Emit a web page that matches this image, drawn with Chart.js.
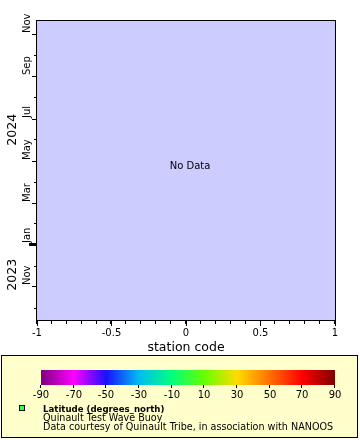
<!DOCTYPE html>
<html>
<head>
<meta charset="utf-8">
<script src="https://cdn.jsdelivr.net/npm/chart.js@4.4.1/dist/chart.umd.min.js"></script>
<style>
  html, body { margin: 0; padding: 0; background: #fff; }
  canvas { display: block; }
</style>
</head>
<body>
<canvas id="chart" width="360" height="440"></canvas>
<script>
// station code axis
const xTicks = [-1, -0.5, 0, 0.5, 1];
const xMinorStep = 0.1;

// time axis (dates)
const yRange = ['2023-09-12', '2024-11-21'];
const monthTicks = ['2023-10-01', '2023-11-01', '2023-12-01', '2024-01-01', '2024-02-01', '2024-03-01', '2024-04-01',
                    '2024-05-01', '2024-06-01', '2024-07-01', '2024-08-01', '2024-09-01', '2024-10-01', '2024-11-01'];
const monthLabels = ['', 'Nov', '', 'Jan', '', 'Mar', '', 'May', '', 'Jul', '', 'Sep', '', 'Nov'];
const yearLabels = ['2023', '2024'];
const yearAnchors = ['2023-11-18', '2024-06-15'];

// colour bar (Latitude, degrees_north)
const colorbarTicks = [-90, -70, -50, -30, -10, 10, 30, 50, 70, 90];
const colorbarColors = ['#800080', '#ff00ff', '#1a10ff', '#00bcf2', '#00ff80', '#66ff00', '#ffdc00', '#ff7000', '#ff0000', '#800000'];

// no observations for this station
const stationPoints = [];

const legendLines = ['Latitude (degrees_north)', 'Quinault Test Wave Buoy', 'Data courtesy of Quinault Tribe, in association with NANOOS'];

const FONT = '"DejaVu Sans", sans-serif';
const day = s => Date.parse(s + 'T00:00:00Z') / 86400000;

const erddapPlugin = {
    id: 'erddap',
    beforeDraw(chart) {
        const { ctx, chartArea: a } = chart;
        ctx.save();
        ctx.fillStyle = '#fff';
        ctx.fillRect(0, 0, chart.width, chart.height);
        ctx.fillStyle = '#ccccff';
        ctx.fillRect(a.left, a.top, a.right - a.left, a.bottom - a.top);
        ctx.restore();
    },
    afterDraw(chart) {
        const { ctx, chartArea: a } = chart;
        const xs = chart.scales.x, ys = chart.scales.y;
        ctx.save();

        // 边框
        ctx.strokeStyle = '#000';
        ctx.lineWidth = 1;
        ctx.strokeRect(Math.round(a.left) - 0.5, Math.round(a.top) + 0.5, Math.round(a.right - a.left) + 1, Math.round(a.bottom - a.top) - 1);

        // x 次刻度
        const yb = Math.round(a.bottom);
        ctx.beginPath();
        for (let v = xTicks[0]; v <= xTicks[xTicks.length - 1] + 1e-9; v += xMinorStep) {
            const px = Math.round(xs.getPixelForValue(v)) - 0.5;
            ctx.moveTo(px, yb);
            ctx.lineTo(px, yb + 3);
        }
        ctx.stroke();

        // y 刻度和月份
        const xl = Math.round(a.left) - 1;
        monthTicks.forEach((t, i) => {
            const py = Math.round(ys.getPixelForValue(day(t)));
            const lab = monthLabels[i];
            if (lab === 'Jan') {
                ctx.fillRect(xl - 7, py - 1, 8, 3);
            } else {
                const len = lab ? 5 : 3;
                ctx.fillRect(xl - len + 1, py, len, 1);
            }
            if (lab) {
                ctx.save();
                ctx.translate(27, py);
                ctx.rotate(-Math.PI / 2);
                ctx.font = '10px ' + FONT;
                ctx.fillStyle = '#000';
                ctx.textAlign = 'left';
                ctx.textBaseline = 'middle';
                ctx.fillText(lab, 1, 0);
                ctx.restore();
            }
        });

        // 年份
        yearLabels.forEach((y, i) => {
            const py = ys.getPixelForValue(day(yearAnchors[i]));
            ctx.save();
            ctx.translate(13, py);
            ctx.rotate(-Math.PI / 2);
            ctx.font = '12.5px ' + FONT;
            ctx.fillStyle = '#000';
            ctx.textAlign = 'center';
            ctx.textBaseline = 'middle';
            ctx.fillText(y, 0, 0);
            ctx.restore();
        });

        // 无数据
        if (!stationPoints.length) {
            ctx.font = '10px ' + FONT;
            ctx.fillStyle = '#000';
            ctx.textAlign = 'center';
            ctx.textBaseline = 'middle';
            ctx.fillText('No Data', (a.left + a.right) / 2 + 4, (a.top + a.bottom) / 2 - 4);
        }

        // 图例框
        ctx.fillStyle = '#ffffcc';
        ctx.fillRect(1, 355, 357, 83);
        ctx.strokeRect(1.5, 355.5, 356, 82);

        // 色标
        const cbL = 41, cbR = 335, cbT = 370, cbB = 385;
        const lo = colorbarTicks[0], hi = colorbarTicks[colorbarTicks.length - 1];
        const cx = v => cbL + (v - lo) / (hi - lo) * (cbR - cbL);
        const grad = ctx.createLinearGradient(cbL, 0, cbR, 0);
        colorbarTicks.forEach((v, i) => grad.addColorStop((v - lo) / (hi - lo), colorbarColors[i]));
        ctx.fillStyle = grad;
        ctx.fillRect(cbL, cbT, cbR - cbL, cbB - cbT);
        ctx.fillStyle = '#000';
        ctx.font = '10px ' + FONT;
        ctx.textAlign = 'center';
        ctx.textBaseline = 'alphabetic';
        colorbarTicks.forEach(v => {
            const px = Math.round(cx(v));
            ctx.fillRect(px - 1, cbB, 1, 3);
            ctx.fillText(String(v), px, 398);
        });

        // 图例说明
        ctx.fillStyle = '#33ff33';
        ctx.fillRect(19, 405, 6, 6);
        ctx.strokeRect(19.5, 405.5, 5, 5);
        ctx.fillStyle = '#000';
        ctx.textAlign = 'left';
        ctx.font = 'bold 8.6px ' + FONT;
        ctx.fillText(legendLines[0], 43, 412);
        ctx.font = '9.6px ' + FONT;
        ctx.fillText(legendLines[1], 43, 421);
        ctx.fillText(legendLines[2], 43, 430);

        ctx.restore();
    }
};

new Chart(document.getElementById('chart'), {
    type: 'scatter',
    data: {
        datasets: [{
            label: 'Latitude',
            data: stationPoints,
            backgroundColor: '#33ff33'
        }]
    },
    options: {
        responsive: false,
        animation: false,
        layout: { padding: { left: 0, top: 20, right: 25, bottom: 85 } },
        plugins: {
            legend: { display: false },
            tooltip: { enabled: false }
        },
        scales: {
            x: {
                type: 'linear',
                min: xTicks[0],
                max: xTicks[xTicks.length - 1],
                afterBuildTicks: s => { s.ticks = xTicks.map(v => ({ value: v })); },
                afterFit: s => { s.height = 34; },
                border: { display: false },
                grid: { drawOnChartArea: false, tickLength: 5, tickColor: '#000' },
                ticks: {
                    color: '#000',
                    font: { family: FONT, size: 10 },
                    padding: 1,
                    maxRotation: 0,
                    autoSkip: false,
                    callback: v => String(v)
                },
                title: {
                    display: true,
                    text: 'station code',
                    color: '#000',
                    font: { family: FONT, size: 12.5 },
                    padding: 0
                }
            },
            y: {
                type: 'linear',
                min: day(yRange[0]),
                max: day(yRange[1]),
                afterFit: s => { s.width = 37; },
                border: { display: false },
                grid: { display: false },
                ticks: { display: false }
            }
        }
    },
    plugins: [erddapPlugin]
});
</script>
</body>
</html>
